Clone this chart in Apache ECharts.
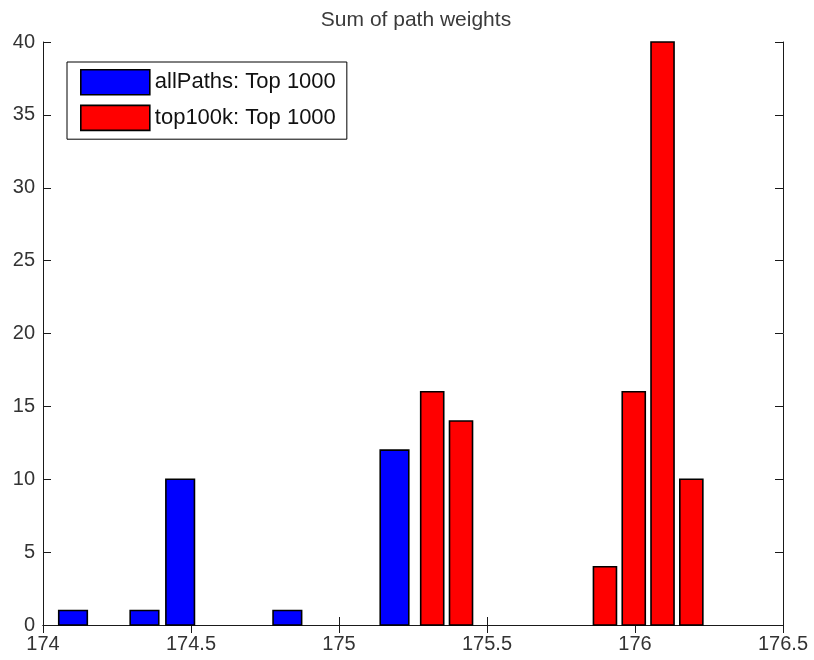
<!DOCTYPE html>
<html>
<head>
<meta charset="utf-8">
<title>Sum of path weights</title>
<script src="https://cdn.jsdelivr.net/npm/echarts@6/dist/echarts.min.js"></script>
<style>
  html, body { margin: 0; padding: 0; background: #fff; }
  #chart { width: 814px; height: 660px; }
</style>
</head>
<body>
<div id="chart"></div>
<script>
// Histogram bin centres and counts for each path set
const allPathsCenters = [174.1014, 174.2221, 174.3428, 174.4634, 174.5841, 174.7048, 174.8255, 174.9462, 175.0668, 175.1875];
const allPathsCounts  = [1, 0, 1, 10, 0, 0, 1, 0, 0, 12];
const top100kCenters  = [175.3149, 175.4122, 175.5094, 175.6067, 175.7040, 175.8012, 175.8985, 175.9958, 176.0930, 176.1903];
const top100kCounts   = [16, 14, 0, 0, 0, 0, 4, 16, 40, 10];

const xTicks = [174, 174.5, 175, 175.5, 176, 176.5];
const yTicks = [0, 5, 10, 15, 20, 25, 30, 35, 40];

const seriesNames = ['allPaths: Top 1000', 'top100k: Top 1000'];
const seriesColors = ['#0000ff', '#ff0000'];

// bars cover 80% of the bin, like MATLAB's hist()
function binRows(centers, counts) {
  const binWidth = (centers[centers.length - 1] - centers[0]) / (centers.length - 1);
  const rows = [];
  centers.forEach((c, i) => {
    if (counts[i] > 0) rows.push([c, counts[i], binWidth * 0.8]);
  });
  return rows;
}

function renderBar(color) {
  return function (params, api) {
    const c = api.value(0), v = api.value(1), w = api.value(2);
    const p0 = api.coord([c - w / 2, v]);
    const p1 = api.coord([c + w / 2, 0]);
    return {
      type: 'rect',
      shape: { x: p0[0], y: p0[1], width: p1[0] - p0[0], height: p1[1] - p0[1] },
      style: { fill: color, stroke: '#000', lineWidth: 1.6 }
    };
  };
}

const font = '"Liberation Sans", Arial, sans-serif';
const xMin = xTicks[0], xMax = xTicks[xTicks.length - 1];
const yMin = yTicks[0], yMax = yTicks[yTicks.length - 1];

const axisCommon = {
  axisLine: { show: true, lineStyle: { color: '#1a1a1a', width: 1 } },
  axisTick: { show: true, inside: true, length: 8, lineStyle: { color: '#1a1a1a', width: 1 } },
  splitLine: { show: false }
};

const chart = echarts.init(document.getElementById('chart'), null, { renderer: 'canvas' });
chart.setOption({
  animation: false,
  backgroundColor: '#fff',
  title: {
    text: 'Sum of path weights',
    left: 411, top: 5, textAlign: 'center',
    textStyle: { fontFamily: font, fontSize: 21, fontWeight: 'normal', color: '#3a3a3a' }
  },
  grid: { left: 43, right: 31, top: 42, bottom: 35 },
  legend: {
    orient: 'vertical',
    left: 67, top: 62,
    padding: [7, 11, 8, 13],
    itemWidth: 69, itemHeight: 25, itemGap: 9,
    borderColor: '#000', borderWidth: 1,
    backgroundColor: '#fff',
    icon: 'rect',
    textStyle: { fontFamily: font, fontSize: 22, color: '#111' },
    data: seriesNames.map((n, i) => ({
      name: n,
      itemStyle: { color: seriesColors[i], borderColor: '#000', borderWidth: 1.6 }
    }))
  },
  xAxis: [
    Object.assign({
      type: 'value', position: 'bottom', min: xMin, max: xMax, interval: 0.5,
      axisLabel: { fontFamily: font, fontSize: 20, color: '#333', margin: 9 }
    }, axisCommon),
    Object.assign({
      type: 'value', position: 'top', min: xMin, max: xMax, interval: 0.5,
      axisLabel: { show: false }
    }, axisCommon)
  ],
  yAxis: [
    Object.assign({
      type: 'value', position: 'left', min: yMin, max: yMax, interval: 5,
      axisLabel: { fontFamily: font, fontSize: 20, color: '#333', margin: 8 }
    }, axisCommon),
    Object.assign({
      type: 'value', position: 'right', min: yMin, max: yMax, interval: 5,
      axisLabel: { show: false }
    }, axisCommon)
  ],
  series: [
    {
      name: seriesNames[0], type: 'custom', xAxisIndex: 0, yAxisIndex: 0,
      itemStyle: { color: seriesColors[0], borderColor: '#000' },
      renderItem: renderBar(seriesColors[0]),
      encode: { x: 0, y: 1 },
      data: binRows(allPathsCenters, allPathsCounts)
    },
    {
      name: seriesNames[1], type: 'custom', xAxisIndex: 0, yAxisIndex: 0,
      itemStyle: { color: seriesColors[1], borderColor: '#000' },
      renderItem: renderBar(seriesColors[1]),
      encode: { x: 0, y: 1 },
      data: binRows(top100kCenters, top100kCounts)
    }
  ]
});
</script>
</body>
</html>
